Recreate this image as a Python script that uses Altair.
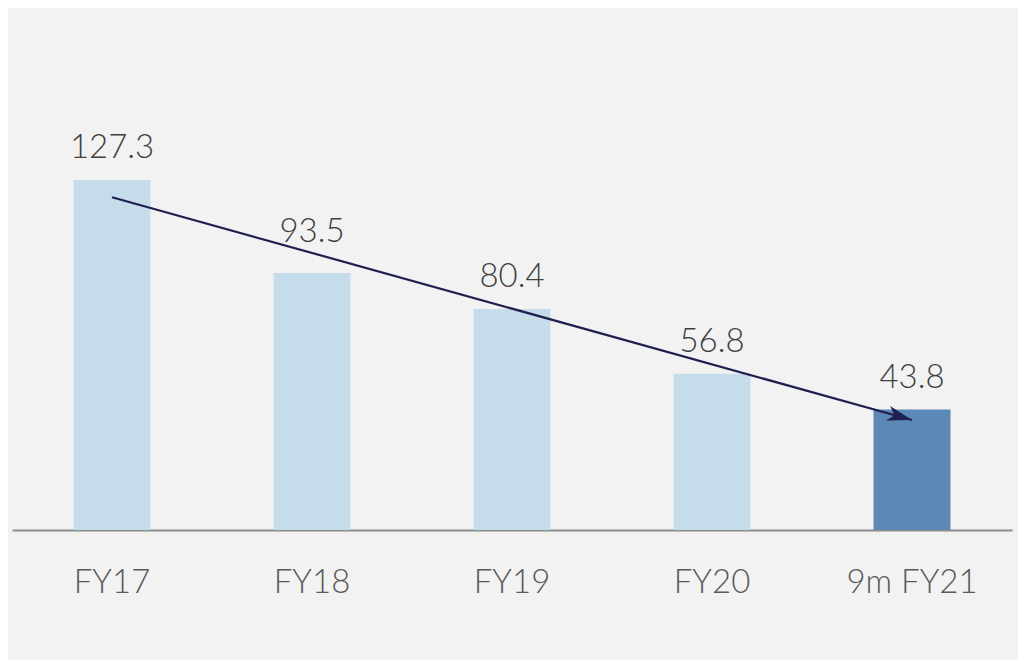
import altair as alt
import pandas as pd

categories = ["FY17", "FY18", "FY19", "FY20", "9m FY21"]
values = [127.3, 93.5, 80.4, 56.8, 43.8]
highlight = [False, False, False, False, True]
label_text = ["127.3", "93.5", "80.4", "56.8", "43.8"]
raised_label = [False, True, False, False, False]

# trend arrow annotation (start / end in data space)
arrow_cat = ["FY17", "9m FY21"]
arrow_val = [121.0, 40.0]

df = pd.DataFrame({"cat": categories, "value": values, "hl": highlight,
                   "label": label_text, "raised": raised_label})
arrow_df = pd.DataFrame({"cat": arrow_cat, "value": arrow_val, "order": [0, 1]})
head_df = arrow_df.iloc[[1]]

FONT = "Lato"
x = alt.X("cat:N", sort=categories,
          scale=alt.Scale(paddingInner=0.615, paddingOuter=0.3075),
          axis=alt.Axis(title=None, labelAngle=0, labelFont=FONT, labelFontSize=33,
                        labelFontWeight=300, labelColor="#595959", labelPadding=36,
                        ticks=False, domainColor="#8c8c8c", domainWidth=2, labelBaseline="top"))
y = alt.Y("value:Q", scale=alt.Scale(domain=[0, 140], nice=False),
          axis=None)

bars = alt.Chart(df).mark_bar().encode(
    x=x, y=y,
    color=alt.Color("hl:N", scale=alt.Scale(domain=[False, True], range=["#c5dcea", "#5b88b6"]), legend=None),
)

text_common = dict(font=FONT, fontSize=33, fontWeight=300, color="#404040", baseline="alphabetic")
labels = alt.Chart(df).transform_filter("!datum.raised").mark_text(dy=-22, **text_common).encode(
    x=alt.X("cat:N", sort=categories), y="value:Q", text="label:N")
labels_raised = alt.Chart(df).transform_filter("datum.raised").mark_text(dy=-31, **text_common).encode(
    x=alt.X("cat:N", sort=categories), y="value:Q", text="label:N")

line = alt.Chart(arrow_df).mark_line(color="#1f2050", strokeWidth=2.2).encode(
    x=alt.X("cat:N", sort=categories), y="value:Q", order="order:Q")
head = alt.Chart(head_df).mark_point(
    shape="M0,0 L-2,-0.6 L-1.45,0 L-2,0.6 Z", size=620, filled=True, opacity=1,
    color="#1f2050", angle=15.6).encode(
    x=alt.X("cat:N", sort=categories), y="value:Q")

chart = alt.layer(bars, line, head, labels, labels_raised).properties(
    width=1000, height=385,
    padding={"left": 4, "top": 137, "right": 6, "bottom": 130},
    autosize=alt.AutoSizeParams(type="none"),
    background="#f2f2f2",
).configure_view(stroke=None)

chart.save("out.html", embed_options={"renderer": "svg", "actions": False})
